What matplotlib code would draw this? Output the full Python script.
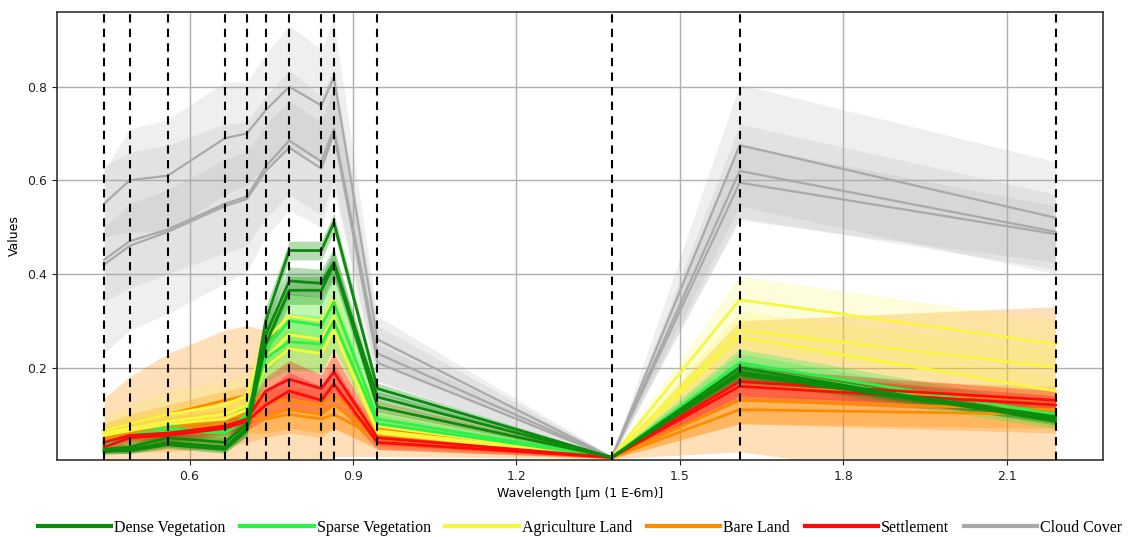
import numpy as np
import matplotlib
matplotlib.use("Agg")
import matplotlib.pyplot as plt

# Sentinel-2 band centres
wavelengths = [0.443, 0.490, 0.560, 0.665, 0.705, 0.740, 0.783, 0.842, 0.865, 0.945, 1.375, 1.610, 2.190]

class_names = ["Dense Vegetation", "Sparse Vegetation", "Agriculture Land", "Bare Land", "Settlement", "Cloud Cover"]
class_colors = ["#0b8a0b", "#2ef04a", "#f7f740", "#ff8c00", "#ff0a0a", "#a9a9a9"]

# mean spectra (several samples per class) and their standard deviations
dense_means = [
    [0.020, 0.025, 0.040, 0.030, 0.070, 0.300, 0.450, 0.450, 0.510, 0.155, 0.008, 0.200, 0.085],
    [0.025, 0.030, 0.050, 0.040, 0.080, 0.270, 0.385, 0.380, 0.425, 0.137, 0.008, 0.190, 0.095],
    [0.022, 0.022, 0.035, 0.025, 0.065, 0.250, 0.365, 0.365, 0.420, 0.116, 0.008, 0.185, 0.090],
]
dense_stds = [
    [0.006, 0.008, 0.010, 0.010, 0.015, 0.030, 0.020, 0.020, 0.020, 0.012, 0.002, 0.015, 0.008],
    [0.006, 0.008, 0.010, 0.010, 0.015, 0.030, 0.030, 0.030, 0.030, 0.012, 0.002, 0.015, 0.008],
    [0.005, 0.006, 0.008, 0.008, 0.012, 0.025, 0.030, 0.030, 0.030, 0.010, 0.002, 0.015, 0.008],
]
sparse_means = [
    [0.035, 0.050, 0.065, 0.060, 0.090, 0.220, 0.255, 0.250, 0.300, 0.080, 0.008, 0.210, 0.100],
    [0.040, 0.055, 0.070, 0.065, 0.100, 0.240, 0.300, 0.290, 0.340, 0.090, 0.008, 0.200, 0.090],
]
sparse_stds = [
    [0.010, 0.015, 0.020, 0.020, 0.030, 0.050, 0.060, 0.060, 0.060, 0.020, 0.002, 0.030, 0.020],
    [0.010, 0.015, 0.020, 0.020, 0.030, 0.050, 0.060, 0.060, 0.060, 0.020, 0.002, 0.030, 0.020],
]
agri_means = [
    [0.065, 0.080, 0.100, 0.120, 0.140, 0.260, 0.310, 0.300, 0.350, 0.075, 0.008, 0.345, 0.250],
    [0.060, 0.070, 0.085, 0.100, 0.120, 0.220, 0.270, 0.260, 0.310, 0.065, 0.008, 0.280, 0.200],
    [0.055, 0.065, 0.080, 0.090, 0.110, 0.200, 0.240, 0.230, 0.280, 0.060, 0.008, 0.265, 0.150],
]
agri_stds = [
    [0.030, 0.040, 0.050, 0.050, 0.050, 0.050, 0.050, 0.050, 0.050, 0.030, 0.003, 0.050, 0.050],
    [0.020, 0.030, 0.030, 0.030, 0.030, 0.040, 0.040, 0.040, 0.040, 0.020, 0.003, 0.040, 0.040],
    [0.020, 0.020, 0.030, 0.030, 0.030, 0.040, 0.040, 0.040, 0.040, 0.020, 0.003, 0.040, 0.030],
]
bare_means = [
    [0.065, 0.080, 0.100, 0.130, 0.140, 0.130, 0.130, 0.120, 0.140, 0.070, 0.008, 0.160, 0.130],
    [0.050, 0.060, 0.070, 0.090, 0.100, 0.100, 0.110, 0.100, 0.120, 0.055, 0.008, 0.130, 0.110],
    [0.045, 0.055, 0.065, 0.080, 0.090, 0.090, 0.100, 0.090, 0.100, 0.050, 0.008, 0.110, 0.100],
]
bare_stds = [
    [0.070, 0.100, 0.130, 0.150, 0.150, 0.150, 0.150, 0.140, 0.130, 0.060, 0.003, 0.140, 0.200],
    [0.030, 0.040, 0.050, 0.060, 0.060, 0.050, 0.050, 0.050, 0.050, 0.030, 0.003, 0.050, 0.050],
    [0.020, 0.020, 0.030, 0.030, 0.030, 0.030, 0.030, 0.030, 0.030, 0.020, 0.003, 0.030, 0.030],
]
settle_means = [
    [0.040, 0.055, 0.060, 0.075, 0.090, 0.150, 0.175, 0.155, 0.190, 0.050, 0.008, 0.170, 0.130],
    [0.030, 0.050, 0.055, 0.070, 0.085, 0.120, 0.150, 0.130, 0.165, 0.040, 0.008, 0.160, 0.120],
]
settle_stds = [
    [0.010, 0.010, 0.015, 0.015, 0.020, 0.030, 0.040, 0.030, 0.040, 0.015, 0.002, 0.030, 0.020],
    [0.010, 0.010, 0.015, 0.015, 0.020, 0.030, 0.040, 0.030, 0.040, 0.015, 0.002, 0.030, 0.020],
]
cloud_means = [
    [0.550, 0.600, 0.610, 0.690, 0.700, 0.750, 0.800, 0.760, 0.820, 0.260, 0.008, 0.675, 0.520],
    [0.430, 0.470, 0.495, 0.550, 0.565, 0.630, 0.685, 0.640, 0.710, 0.230, 0.008, 0.620, 0.490],
    [0.420, 0.460, 0.490, 0.545, 0.560, 0.620, 0.670, 0.625, 0.700, 0.210, 0.008, 0.595, 0.485],
]
cloud_stds = [
    [0.070, 0.110, 0.120, 0.120, 0.110, 0.120, 0.130, 0.120, 0.120, 0.050, 0.003, 0.130, 0.120],
    [0.200, 0.190, 0.180, 0.170, 0.160, 0.150, 0.150, 0.140, 0.130, 0.060, 0.003, 0.100, 0.080],
    [0.080, 0.090, 0.090, 0.100, 0.100, 0.100, 0.100, 0.100, 0.100, 0.040, 0.003, 0.080, 0.060],
]

all_means = [dense_means, sparse_means, agri_means, bare_means, settle_means, cloud_means]
all_stds = [dense_stds, sparse_stds, agri_stds, bare_stds, settle_stds, cloud_stds]
fill_alpha = [0.30, 0.30, 0.18, 0.28, 0.30, 0.18]
draw_order = [5, 3, 2, 1, 4, 0]

fig = plt.figure(figsize=(11.33, 5.37), dpi=100)
ax = fig.add_axes([0.050, 0.143, 0.9235, 0.835])

x = np.array(wavelengths)
for k in draw_order:
    for m, s in zip(all_means[k], all_stds[k]):
        m = np.array(m)
        s = np.array(s)
        ax.fill_between(x, m - s, m + s, color=class_colors[k], alpha=fill_alpha[k], lw=0)
        ax.plot(x, m, color=class_colors[k], lw=2 if k != 5 else 1.6)

for w in wavelengths:
    ax.axvline(w, color="black", ls=(0, (4, 3)), lw=1.5, zorder=5)

ax.set_xlim(0.356, 2.277)
ax.set_ylim(0.002, 0.96)
ax.set_xticks([0.6, 0.9, 1.2, 1.5, 1.8, 2.1])
ax.set_yticks([0.2, 0.4, 0.6, 0.8])
ax.grid(True, color="#b0b0b0", lw=1)
ax.set_axisbelow(True)
ax.tick_params(labelsize=9, colors="#222222")
for sp in ax.spines.values():
    sp.set_color("#333333")
    sp.set_linewidth(1.2)
ax.set_xlabel("Wavelength [μm (1 E-6m)]", fontsize=9, labelpad=3)
ax.set_ylabel("Values", fontsize=9)

handles = [plt.Line2D([], [], color=c, lw=3) for c in class_colors]
fig.legend(handles, class_names, loc="lower center", bbox_to_anchor=(0.512, -0.025), ncol=6,
           frameon=False, handlelength=4.6, handletextpad=0.2, columnspacing=0.9,
           prop={"family": "Liberation Serif", "size": 11.5})

fig.savefig("out.png", dpi=100)
